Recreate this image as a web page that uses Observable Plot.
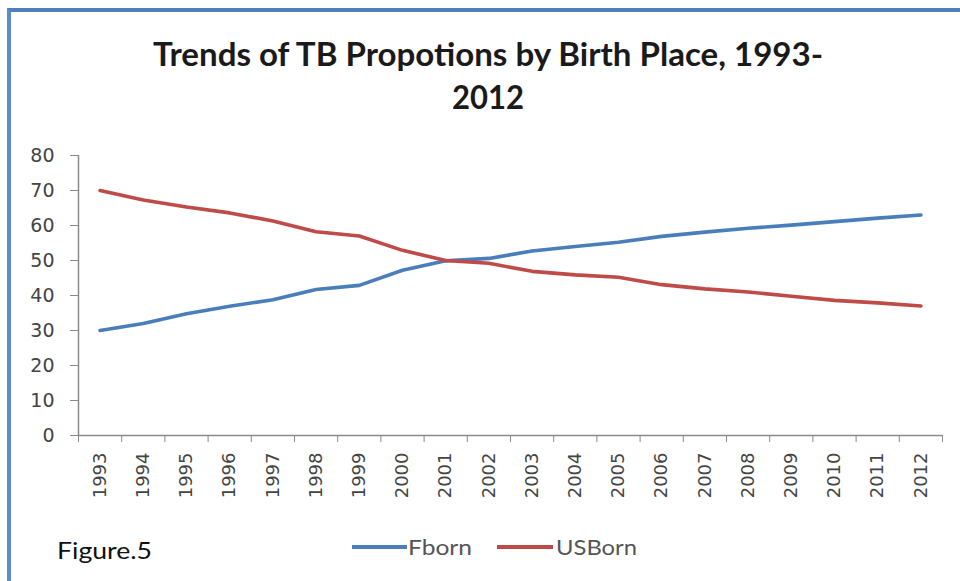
<!DOCTYPE html>
<html>
<head>
<meta charset="utf-8">
<script src="https://cdn.jsdelivr.net/npm/d3@7"></script>
<script src="https://cdn.jsdelivr.net/npm/@observablehq/plot@0.6"></script>
<style>
  html, body { margin: 0; padding: 0; background: #fff; }
  #page { position: relative; width: 960px; height: 581px; overflow: hidden; background: #fff; }
  #frame { position: absolute; left: 7px; top: 8px; right: -10px; bottom: -10px;
           border-top: 4px solid #4f7fbd; border-left: 4px solid #5b8bd0; }
  .t { position: absolute; white-space: nowrap; transform-origin: 0 0; }
  #title1, #title2 { font-family: Lato, "Open Sans", sans-serif; font-weight: 700; font-size: 33px; color: #1a1a1a; }
  #fig { font-family: Lato, "Open Sans", sans-serif; font-size: 23px; color: #111; }
  .leg { font-family: Lato, "Open Sans", sans-serif; font-size: 22px; color: #555; }
  .sw { position: absolute; height: 4px; }
  #chart { position: absolute; left: 0; top: 130px; }
</style>
</head>
<body>
<div id="page">
  <div id="frame"></div>
  <div id="chart"></div>
  <span class="t" id="title1">Trends of TB Propotions by Birth Place, 1993-</span>
  <span class="t" id="title2">2012</span>
  <span class="t" id="fig">Figure.5</span>
  <div class="sw" id="swF"></div>
  <span class="t leg" id="legF">Fborn</span>
  <div class="sw" id="swU"></div>
  <span class="t leg" id="legU">USBorn</span>
</div>
<script>
const years = [1993,1994,1995,1996,1997,1998,1999,2000,2001,2002,2003,2004,2005,2006,2007,2008,2009,2010,2011,2012];
const fborn  = [30,32,34.8,36.9,38.8,41.7,42.9,47.2,49.9,50.6,52.7,54,55.2,56.9,58.1,59.2,60.1,61.1,62.1,63];
const usborn = [70,67.3,65.3,63.6,61.3,58.2,57,52.9,50,49.2,46.9,45.9,45.2,43.1,41.9,41,39.8,38.6,37.9,37];
const seriesNames = ["Fborn", "USBorn"];
const seriesColors = ["#4a7ebb", "#be4b48"];
const yTicks = [0,10,20,30,40,50,60,70,80];

const rows = [];
years.forEach((y, i) => {
  rows.push({year: y, value: fborn[i], series: seriesNames[0]});
  rows.push({year: y, value: usborn[i], series: seriesNames[1]});
});
const bounds = years.map(y => y - 0.5).concat([years[years.length - 1] + 0.5]);

const chart = Plot.plot({
  width: 960,
  height: 390,
  marginTop: 25,
  marginBottom: 85,
  marginLeft: 78,
  marginRight: 18,
  style: {fontFamily: "DejaVu Sans, sans-serif", fontSize: "19px", color: "#444", background: "transparent"},
  x: {domain: [bounds[0], bounds[bounds.length - 1]]},
  y: {domain: [0, 80]},
  color: {domain: seriesNames, range: seriesColors},
  marks: [
    Plot.axisY({ticks: yTicks, tickSize: 8, tickPadding: 16, stroke: "#8a8a8a", fill: "#444", label: null, fontSize: 19}),
    Plot.axisX({ticks: bounds, tickSize: 7, stroke: "#8a8a8a", tickFormat: () => "", label: null}),
    Plot.axisX({ticks: years, tickSize: 0, tickPadding: 17, tickRotate: -90, tickFormat: d => String(d), fill: "#444", label: null, fontSize: 18}),
    Plot.ruleY([0], {stroke: "#8a8a8a", strokeWidth: 1.5}),
    Plot.ruleX([bounds[0]], {y1: 0, y2: 80, stroke: "#8a8a8a", strokeWidth: 1.5}),
    Plot.line(rows, {x: "year", y: "value", z: "series", stroke: "series", strokeWidth: 3.6, strokeLinejoin: "round", strokeLinecap: "round"})
  ]
});
document.getElementById("chart").appendChild(chart);

function place(id, left, top, width) {
  const el = document.getElementById(id);
  el.style.left = left + "px";
  el.style.top = top + "px";
  if (width) {
    const w = el.getBoundingClientRect().width;
    el.style.transform = `scaleX(${width / w})`;
  }
}
function placeCenter(id, cx, top, width) {
  const el = document.getElementById(id);
  place(id, cx - width / 2, top, width);
}
placeCenter("title1", 488, 33, 670);
placeCenter("title2", 488, 76, 72);
place("fig", 57, 536, 95);
place("legF", 408, 533, 64);
place("legU", 556, 533, 81);
const swF = document.getElementById("swF");
swF.style.left = "352px"; swF.style.width = "55px"; swF.style.top = "545px"; swF.style.background = seriesColors[0];
const swU = document.getElementById("swU");
swU.style.left = "497px"; swU.style.width = "56px"; swU.style.top = "545px"; swU.style.background = seriesColors[1];
</script>
</body>
</html>
